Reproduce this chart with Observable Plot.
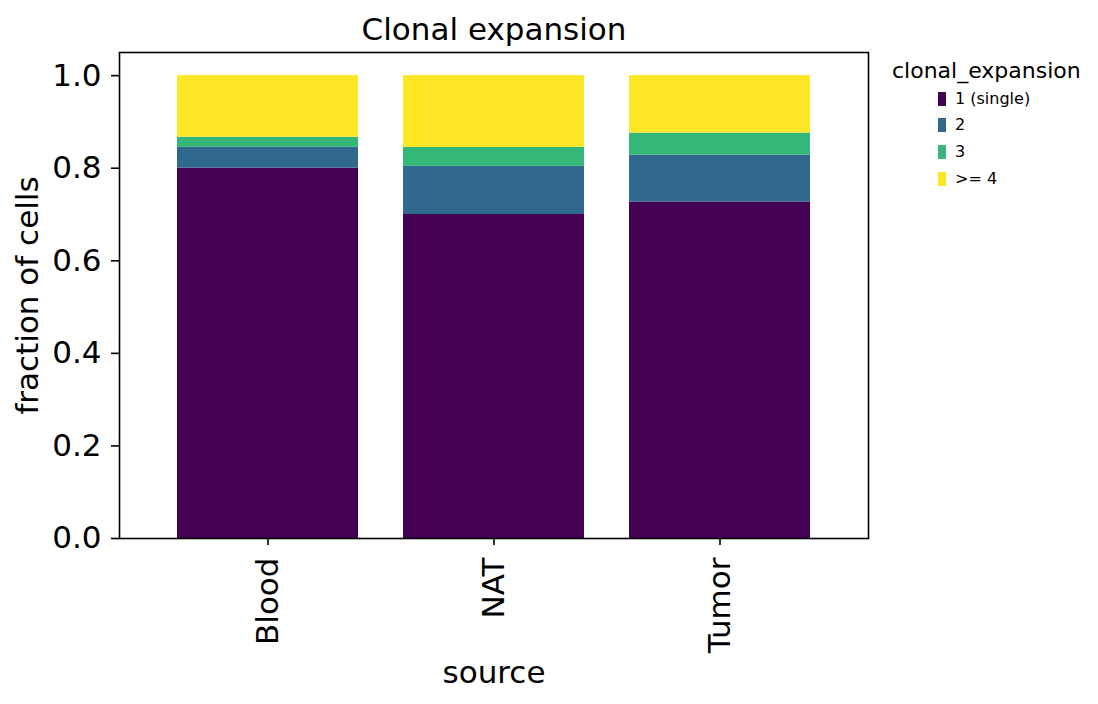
<!DOCTYPE html>
<html>
<head>
<meta charset="utf-8">
<script src="https://cdn.jsdelivr.net/npm/d3@7"></script>
<script src="https://cdn.jsdelivr.net/npm/@observablehq/plot@0.6"></script>
<style>
  html, body { margin: 0; padding: 0; background: #fff; }
  #wrap { position: relative; width: 1098px; height: 704px; font-family: "DejaVu Sans", sans-serif; color: #000; }
  #wrap svg { position: absolute; left: 0; top: 0; }
  .legend-title { position: absolute; left: 892px; top: 59.5px; font-size: 22px; line-height: 22px; white-space: nowrap; }
  .legend-item { position: absolute; left: 938px; height: 14px; display: flex; align-items: center; white-space: nowrap; }
  .legend-item .sw { width: 7.5px; height: 14px; margin-right: 9.5px; }
  .legend-item .lb { font-size: 16px; line-height: 14px; }
</style>
</head>
<body>
<div id="wrap"></div>
<script>
const sources = ["Blood", "NAT", "Tumor"];
const groups = ["1 (single)", "2", "3", ">= 4"];
const colors = ["#440154", "#31688e", "#35b779", "#fde725"];
const single = [0.800, 0.700, 0.727];
const two    = [0.045, 0.104, 0.101];
const three  = [0.022, 0.041, 0.048];
const fourUp = [0.133, 0.155, 0.124];
const yTicks = [0, 0.2, 0.4, 0.6, 0.8, 1.0];

const series = [single, two, three, fourUp];
const data = [];
sources.forEach((s, i) => {
  groups.forEach((g, j) => data.push({source: s, group: g, value: series[j][i]}));
});

const FS = 31;
const plot = Plot.plot({
  width: 1098,
  height: 704,
  marginTop: 52,
  marginRight: 230,
  marginBottom: 166,
  marginLeft: 119,
  style: { fontFamily: "DejaVu Sans, sans-serif", fontSize: FS + "px", color: "#000", background: "#fff" },
  x: { domain: sources, paddingInner: 0.2, paddingOuter: 0.25, label: null },
  y: { domain: [0, 1.05], label: null },
  color: { domain: groups, range: colors },
  marks: [
    Plot.barY(data, { x: "source", y: "value", fill: "group", order: groups }),
    Plot.axisY({ ticks: yTicks, tickFormat: d3.format(".1f"), tickSize: 8, tickPadding: 10, fontSize: FS, label: null, strokeWidth: 1.6 }),
    Plot.axisX({ tickSize: 7, tickPadding: 12, tickRotate: -90, fontSize: FS, label: null, strokeWidth: 1.6 }),
    Plot.frame({ stroke: "#000", strokeWidth: 1.6 }),
    Plot.text(["Clonal expansion"], { frameAnchor: "top", lineAnchor: "middle", textAnchor: "middle", dy: -22.6, fontSize: FS, fill: "#000" }),
    Plot.text(["source"], { frameAnchor: "bottom", lineAnchor: "middle", textAnchor: "middle", dy: 135, fontSize: FS, fill: "#000" }),
    Plot.text(["fraction of cells"], { frameAnchor: "left", lineAnchor: "middle", textAnchor: "middle", dx: -91, rotate: -90, fontSize: FS, fill: "#000" })
  ]
});

const wrap = document.getElementById("wrap");
wrap.appendChild(plot);

const lt = document.createElement("div");
lt.className = "legend-title";
lt.textContent = "clonal_expansion";
wrap.appendChild(lt);

const centers = [98.5, 125, 151.5, 178.5];
groups.forEach((g, i) => {
  const it = document.createElement("div");
  it.className = "legend-item";
  it.style.top = (centers[i] - 7) + "px";
  const sw = document.createElement("div");
  sw.className = "sw";
  sw.style.background = colors[i];
  const lb = document.createElement("span");
  lb.className = "lb";
  lb.textContent = g;
  it.appendChild(sw);
  it.appendChild(lb);
  wrap.appendChild(it);
});
</script>
</body>
</html>
